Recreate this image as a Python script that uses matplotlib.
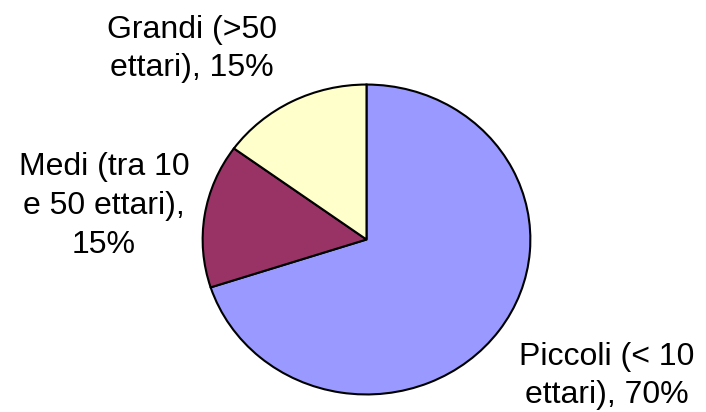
"""
Torta della ripartizione delle aziende per dimensione
"""
import matplotlib.pyplot as plt

categorie = ["Piccoli (< 10\nettari)", "Medi (tra 10\ne 50 ettari),\n", "Grandi (>50\nettari)"]
percentuali = [70, 15, 15]
colori = ["#9999FF", "#993366", "#FFFFCC"]

W, H = 706, 412
fig = plt.figure(figsize=(W / 100, H / 100), dpi=100)

# assi posizionati in pixel: il cerchio e' leggermente schiacciato come nell'originale
ax = fig.add_axes([201 / W, (H - 396) / H, 331 / W, 313 / H])
ax.pie(percentuali, colors=colori, startangle=90, counterclock=False,
       wedgeprops=dict(edgecolor="black", linewidth=1.5))
ax.set_aspect("auto")
ax.set_xlim(-1.01, 1.01)
ax.set_ylim(-1.01, 1.01)
ax.axis("off")

# posizione delle etichette (centro del blocco di testo, in pixel)
posizioni = [(607, 376), (104, 206), (192, 49)]
for nome, pct, (px, py) in zip(categorie, percentuali, posizioni):
    sep = "" if nome.endswith("\n") else ", "
    testo = f"{nome}{sep}{pct}%"
    fig.text(px / W, 1 - py / H, testo, ha="center", va="center",
             multialignment="center", fontsize=23, linespacing=1.37,
             family="Liberation Sans")

plt.savefig("out.png", dpi=100)
